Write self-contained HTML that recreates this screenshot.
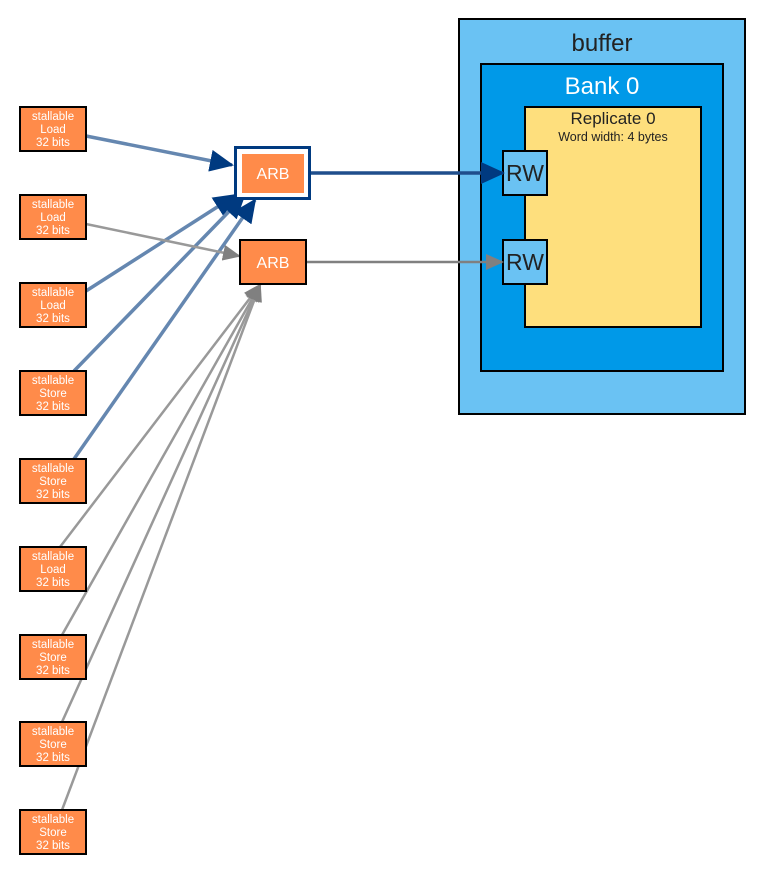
<!DOCTYPE html>
<html><head><style>body{margin:0;background:#fff}svg{display:block}text{font-family:"Liberation Sans",sans-serif}</style></head><body>
<svg width="764" height="875" viewBox="0 0 764 875" xmlns="http://www.w3.org/2000/svg">
<defs>
<marker id="abig" markerWidth="24" markerHeight="22" refX="22" refY="11" orient="auto" markerUnits="userSpaceOnUse"><path d="M0,0L24,11L0,22z" fill="#003a80"/></marker>
<marker id="ag" markerWidth="18" markerHeight="16" refX="16" refY="8" orient="auto" markerUnits="userSpaceOnUse"><path d="M0,0L18,8L0,16z" fill="#808080"/></marker>
</defs>
<rect x="459" y="19" width="286" height="395" fill="#6ac2f3" stroke="#000" stroke-width="2"/>
<text x="602" y="51" font-size="24" text-anchor="middle" fill="#222">buffer</text>
<rect x="481" y="64" width="242" height="307" fill="#0099e8" stroke="#000" stroke-width="2"/>
<text x="602" y="94" font-size="24" text-anchor="middle" fill="#fff">Bank 0</text>
<rect x="525" y="107" width="176" height="220" fill="#fedf7d" stroke="#000" stroke-width="2"/>
<text x="613" y="124" font-size="17" text-anchor="middle" fill="#222">Replicate 0</text>
<text x="613" y="141" font-size="12.5" text-anchor="middle" fill="#222">Word width: 4 bytes</text>
<rect x="503" y="151" width="44" height="44" fill="#6ac2f3" stroke="#000" stroke-width="2"/>
<text x="525" y="181" font-size="23" text-anchor="middle" fill="#222">RW</text>
<rect x="503" y="240" width="44" height="44" fill="#6ac2f3" stroke="#000" stroke-width="2"/>
<text x="525" y="270" font-size="23" text-anchor="middle" fill="#222">RW</text>

<g fill="none" stroke-width="3.5">
<line x1="86" y1="136" x2="232" y2="165" stroke="#6587b0" marker-end="url(#abig)"/>
<line x1="86" y1="291" x2="236" y2="195" stroke="#6587b0" marker-end="url(#abig)"/>
<line x1="74" y1="371" x2="244" y2="196" stroke="#6587b0" marker-end="url(#abig)"/>
<line x1="74" y1="459" x2="255" y2="200" stroke="#6587b0" marker-end="url(#abig)"/>
<line x1="311" y1="173" x2="503" y2="173" stroke="#1f4e8c" marker-end="url(#abig)"/>
</g>
<g fill="none" stroke="#999" stroke-width="2.5">
<line x1="86" y1="224" x2="239" y2="256" marker-end="url(#ag)"/>
<line x1="60" y1="547" x2="260" y2="285" marker-end="url(#ag)"/>
<line x1="62" y1="635" x2="260" y2="285" marker-end="url(#ag)"/>
<line x1="62" y1="722" x2="260" y2="285" marker-end="url(#ag)"/>
<line x1="62" y1="810" x2="260" y2="285" marker-end="url(#ag)"/>
<line x1="306" y1="262" x2="502" y2="262" stroke="#808080" marker-end="url(#ag)"/>
</g>

<rect x="235.5" y="147.5" width="74" height="51" fill="#fff" stroke="#003a80" stroke-width="3"/>
<rect x="242" y="154" width="62" height="39" fill="#ff8b4a"/>
<text x="273" y="179" font-size="16" text-anchor="middle" fill="#fff">ARB</text>
<rect x="240" y="240" width="66" height="44" fill="#ff8b4a" stroke="#000" stroke-width="2"/>
<text x="273" y="268" font-size="16" text-anchor="middle" fill="#fff">ARB</text>

<g font-size="11.5" text-anchor="middle" fill="#fff">
<g transform="translate(0,0)"><rect x="20" y="107" width="66" height="44" fill="#ff8b4a" stroke="#000" stroke-width="2"/><text x="53" y="120">stallable</text><text x="53" y="133">Load</text><text x="53" y="146">32 bits</text></g>
<g transform="translate(0,88)"><rect x="20" y="107" width="66" height="44" fill="#ff8b4a" stroke="#000" stroke-width="2"/><text x="53" y="120">stallable</text><text x="53" y="133">Load</text><text x="53" y="146">32 bits</text></g>
<g transform="translate(0,176)"><rect x="20" y="107" width="66" height="44" fill="#ff8b4a" stroke="#000" stroke-width="2"/><text x="53" y="120">stallable</text><text x="53" y="133">Load</text><text x="53" y="146">32 bits</text></g>
<g transform="translate(0,264)"><rect x="20" y="107" width="66" height="44" fill="#ff8b4a" stroke="#000" stroke-width="2"/><text x="53" y="120">stallable</text><text x="53" y="133">Store</text><text x="53" y="146">32 bits</text></g>
<g transform="translate(0,352)"><rect x="20" y="107" width="66" height="44" fill="#ff8b4a" stroke="#000" stroke-width="2"/><text x="53" y="120">stallable</text><text x="53" y="133">Store</text><text x="53" y="146">32 bits</text></g>
<g transform="translate(0,440)"><rect x="20" y="107" width="66" height="44" fill="#ff8b4a" stroke="#000" stroke-width="2"/><text x="53" y="120">stallable</text><text x="53" y="133">Load</text><text x="53" y="146">32 bits</text></g>
<g transform="translate(0,528)"><rect x="20" y="107" width="66" height="44" fill="#ff8b4a" stroke="#000" stroke-width="2"/><text x="53" y="120">stallable</text><text x="53" y="133">Store</text><text x="53" y="146">32 bits</text></g>
<g transform="translate(0,615)"><rect x="20" y="107" width="66" height="44" fill="#ff8b4a" stroke="#000" stroke-width="2"/><text x="53" y="120">stallable</text><text x="53" y="133">Store</text><text x="53" y="146">32 bits</text></g>
<g transform="translate(0,703)"><rect x="20" y="107" width="66" height="44" fill="#ff8b4a" stroke="#000" stroke-width="2"/><text x="53" y="120">stallable</text><text x="53" y="133">Store</text><text x="53" y="146">32 bits</text></g>
</g>
</svg>
</body></html>
